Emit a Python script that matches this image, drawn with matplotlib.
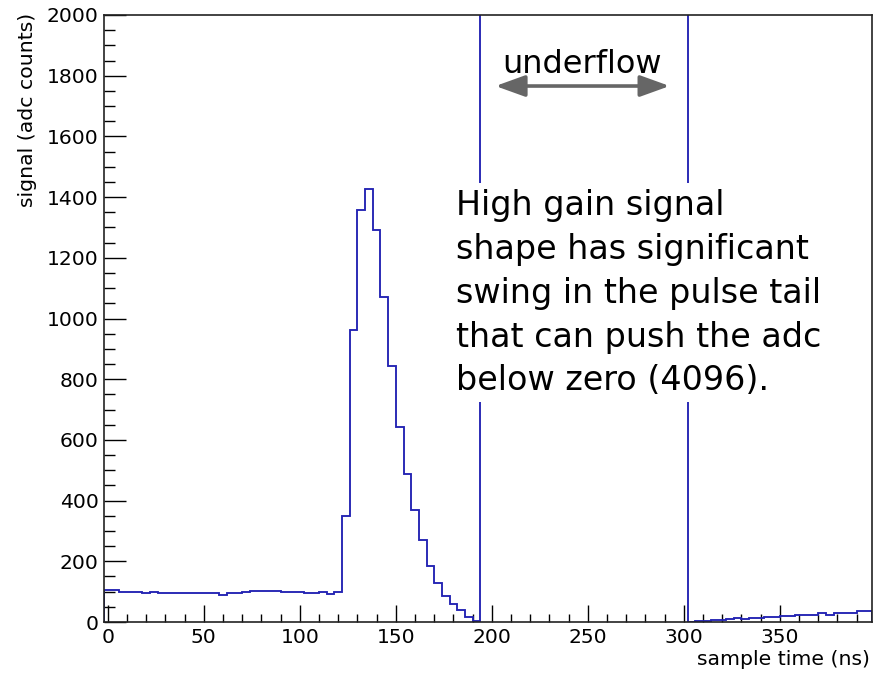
import numpy as np
import matplotlib
matplotlib.use("Agg")
import matplotlib.pyplot as plt
from matplotlib.ticker import MultipleLocator

# 4 ns samples, bin centres at 0, 4, ..., 396
bin_width = 4
t_first = 0
n_bins = 100

baseline = [104, 104, 99, 99, 99, 94, 99, 96, 96, 96,
            96, 96, 96, 96, 96, 89, 96, 96, 99, 103,
            103, 103, 103, 99, 99, 99, 96, 96, 99, 93,
            99]
pulse = [348, 963, 1358, 1426, 1292, 1070, 842, 644, 487, 370,
         269, 186, 128, 87, 60, 38, 18, 2]
underflow = [4096] * 27          # adc wrapped around, off scale
tail = [0, 2, 2, 7, 7, 10, 13, 10, 13, 13,
        16, 16, 20, 20, 24, 24, 24, 30, 24, 30,
        30, 30, 36, 36]

signal = np.array(baseline + pulse + underflow + tail, dtype=float)
edges = t_first - bin_width / 2 + bin_width * np.arange(n_bins + 1)

hist_col = "#2323b3"
fs_tick = 14.6

fig = plt.figure(figsize=(8.84, 6.78), dpi=100)
ax = fig.add_axes([104 / 884, 1 - 622 / 678, 768 / 884, 607 / 678])

ax.stairs(signal, edges, color=hist_col, linewidth=1.35, zorder=2)

ax.set_xlim(edges[0], edges[-1])
ax.set_ylim(0, 2000)

ax.xaxis.set_major_locator(MultipleLocator(50))
ax.xaxis.set_minor_locator(MultipleLocator(10))
ax.yaxis.set_major_locator(MultipleLocator(200))
ax.yaxis.set_minor_locator(MultipleLocator(50))
ax.tick_params(axis="x", which="major", direction="in", length=12.6, width=1.0, pad=4, labelsize=fs_tick)
ax.tick_params(axis="x", which="minor", direction="in", length=6, width=1.0)
ax.tick_params(axis="y", which="major", direction="in", length=16, width=1.0, pad=4, labelsize=fs_tick)
ax.tick_params(axis="y", which="minor", direction="in", length=8, width=1.0)
for s in ax.spines.values():
    s.set_color("#222222")
    s.set_linewidth(1.2)

ax.set_xlabel("sample time (ns)", fontsize=14.7, loc="right")
ax.xaxis.set_label_coords(0.997, -0.046)
ax.set_ylabel("signal (adc counts)", fontsize=14.7, loc="top")
ax.yaxis.set_label_coords(-0.087, 1.003)

# underflow marker
ax.annotate("", xy=(201.9, 1766), xytext=(292.6, 1766),
            arrowprops=dict(arrowstyle="<|-|>,head_length=18,head_width=6.5",
                            mutation_scale=1, color="#666666", lw=2.6,
                            shrinkA=0, shrinkB=0))
ax.text(247.1, 1808, "underflow", fontsize=23, ha="center", va="baseline")

note = ["High gain signal",
        "shape has significant",
        "swing in the pulse tail",
        "that can push the adc",
        "below zero (4096)."]
note_y = [1341, 1196, 1052, 907, 765]
for line, y in zip(note, note_y):
    ax.text(181.1, y, line, fontsize=24, ha="left", va="baseline", zorder=4,
            bbox=dict(facecolor="white", edgecolor="none", pad=4))

fig.savefig("out.png", dpi=100)
